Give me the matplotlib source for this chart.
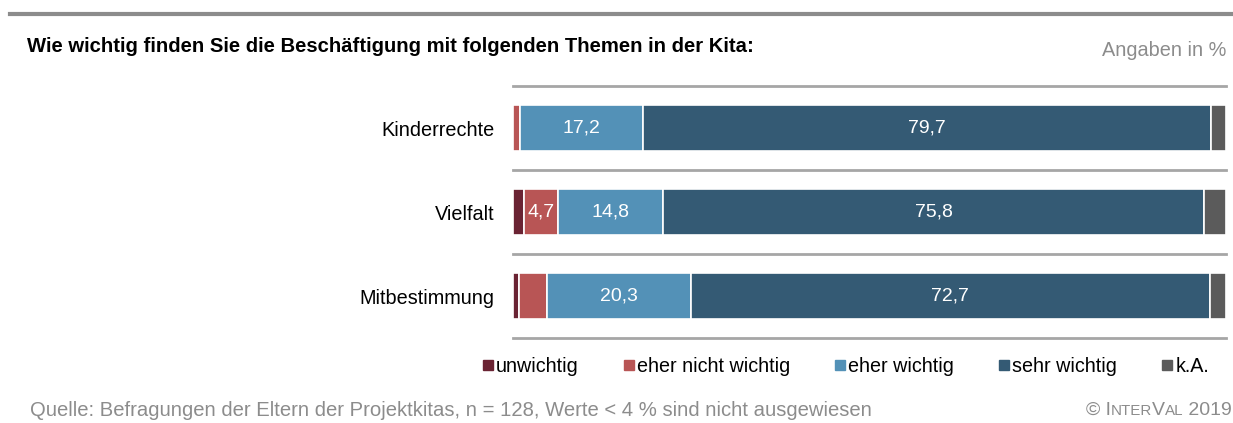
import matplotlib.pyplot as plt
from matplotlib.lines import Line2D

plt.rcParams['font.family'] = ['Liberation Sans', 'DejaVu Sans']

categories = ["Kinderrechte", "Vielfalt", "Mitbestimmung"]
series = ["unwichtig", "eher nicht wichtig", "eher wichtig", "sehr wichtig", "k.A."]
unwichtig = [0.0, 1.6, 0.8]
eher_nicht = [1.0, 4.7, 3.9]
eher_wichtig = [17.2, 14.8, 20.3]
sehr_wichtig = [79.7, 75.8, 72.7]
keine_angabe = [2.1, 3.1, 2.3]
colors = ["#6a2333", "#b85555", "#5391b7", "#345a74", "#5b5b5b"]

values = [unwichtig, eher_nicht, eher_wichtig, sehr_wichtig, keine_angabe]
FS = 14
GRAY = "#8c8c8c"

fig = plt.figure(figsize=(12.33, 4.23), dpi=100)
ax = fig.add_axes([513 / 1233, 1 - 338 / 423, 713 / 1233, 252 / 423])

ypos = list(range(len(categories)))
left = [0.0] * len(categories)
for vals, col in zip(values, colors):
    ax.barh(ypos, vals, left=left, height=0.55, color=col,
            edgecolor="white", linewidth=1.2, zorder=3)
    for y, v, l in zip(ypos, vals, left):
        if v >= 4:
            ax.text(l + v / 2, y, f"{v:.1f}".replace(".", ","), ha="center",
                    va="center", color="white", fontsize=FS, zorder=4)
    left = [a + b for a, b in zip(left, vals)]

ax.set_xlim(0, 100)
ax.set_ylim(2.5, -0.5)
for yl in [-0.5, 0.5, 1.5, 2.5]:
    ax.axhline(yl, color="#a6a6a6", linewidth=2, zorder=2, clip_on=False)
for s in ax.spines.values():
    s.set_visible(False)
ax.set_xticks([])
ax.set_yticks(ypos)
ax.set_yticklabels(categories, fontsize=FS + 0.3)
ax.tick_params(axis="y", length=0, pad=13.5)

# top rule
fig.add_artist(Line2D([10 / 1233, 1], [1 - 14 / 423] * 2, color=GRAY,
                      linewidth=3, transform=fig.transFigure))

fig.text(27 / 1233, 1 - 46 / 423, "Wie wichtig finden Sie die Beschäftigung mit folgenden Themen in der Kita:",
         fontsize=14.6, fontweight="bold", va="center", ha="left")
fig.text(1226 / 1233, 1 - 50 / 423, "Angaben in %", fontsize=FS + 0.3, color=GRAY,
         ha="right", va="center")

handles = [Line2D([], [], marker="s", linestyle="", color=c, markersize=6.5) for c in colors]
fig.legend(handles, series, loc="center", bbox_to_anchor=(845 / 1233, 1 - 366 / 423),
           ncol=5, frameon=False, fontsize=FS + 0.2, handletextpad=0.05,
           columnspacing=2.2, handlelength=0.7, borderpad=0)

fig.text(30 / 1233, 1 - 410 / 423,
         "Quelle: Befragungen der Eltern der Projektkitas, n = 128, Werte < 4 % sind nicht ausgewiesen",
         fontsize=14.6, color=GRAY, ha="left", va="center")

# small caps copyright, right aligned
parts = [("© I", FS), ("NTER", FS * 0.78), ("V", FS), ("AL", FS * 0.78), (" 2019", FS)]
fig.canvas.draw()
r = fig.canvas.get_renderer()
texts = []
x = 0
for s, f in parts:
    t = fig.text(x / 1233, 1 - 410 / 423, s, fontsize=f, color=GRAY, ha="left", va="baseline")
    texts.append(t)
    x = t.get_window_extent(r).x1
x = 1232 - x
for t in texts:
    w = t.get_window_extent(r).width
    t.set_position((x / 1233, 1 - 415 / 423))
    x += w

fig.savefig("out.png", dpi=100)
